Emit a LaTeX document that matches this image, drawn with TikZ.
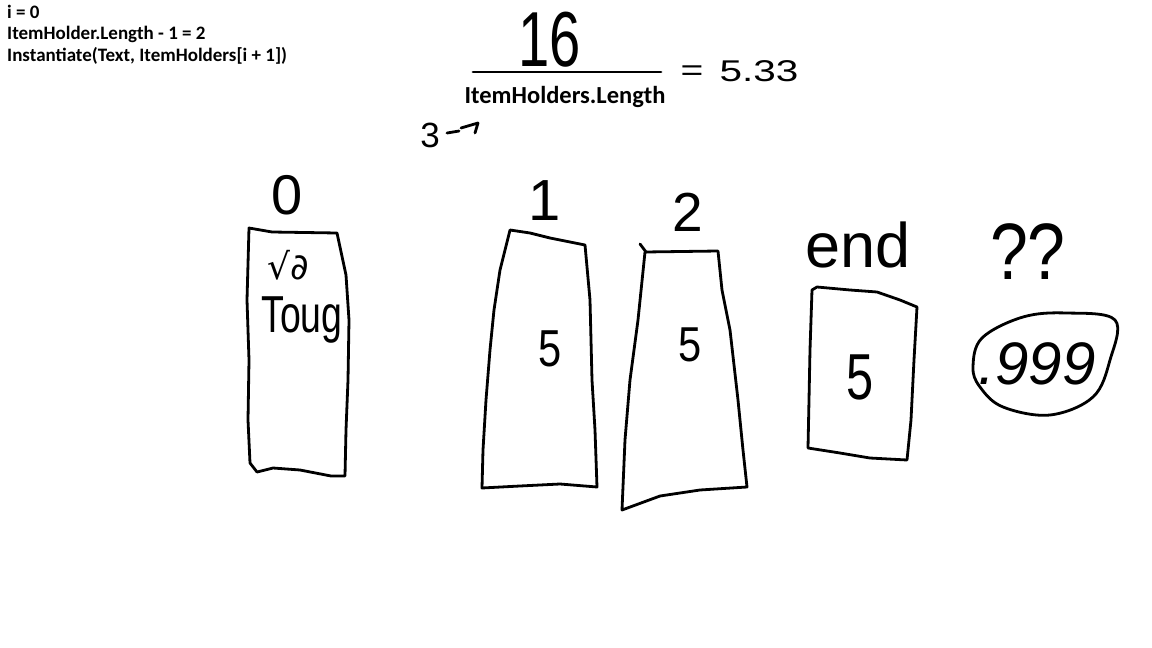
\documentclass[tikz,border=0pt]{standalone}
\usepackage{fontspec}
\setmainfont{Liberation Sans}
\newfontfamily\codefont{Carlito}
\newfontfamily\symfont{DejaVu Sans}
\begin{document}
\begin{tikzpicture}[x=1pt,y=-1pt,
  ink/.style={line width=2.8pt,line cap=round,line join=round},
  hand/.style={inner sep=0pt,anchor=center},
  code/.style={inner sep=0pt,anchor=west,font=\codefont\bfseries\fontsize{19}{22}\selectfont}]
\fill[white] (0,0) rectangle (1152,648);
\useasboundingbox (0,0) rectangle (1152,648);
% code text
\node[code] (c1) at (7,12) {i = 0};
\node[code] (c2) at (7,34) {ItemHolder.Length - 1 = 2};
\node[code] (c3) at (7,56) {Instantiate(Text, ItemHolders[i + 1])};
% fraction
\node[hand,xscale=0.72,font=\fontsize{78}{80}\selectfont] (num) at (550,40) {16};
\coordinate (fl) at (473,72);
\coordinate (fr) at (661,72);
\draw[ink] (fl) -- (fr);
\node[inner sep=0pt,font=\codefont\bfseries\fontsize{24.5}{26}\selectfont] (den) at (565,97) {ItemHolders.Length};
\node[hand,xscale=1.3,font=\fontsize{30}{32}\selectfont] (eq) at (692,73) {=};
\node[hand,xscale=1.35,font=\fontsize{30}{32}\selectfont] (res) at (759,71) {5.33};
\node[hand,font=\fontsize{35}{38}\selectfont] (three) at (430,135) {3};
\coordinate (a1) at (447,133);
\coordinate (a2) at (459,131);
\coordinate (a3) at (461,128);
\coordinate (a4) at (478,123);
\coordinate (a5) at (475,133);
\draw[ink] (a1) -- (a2);
\draw[ink] (a3) -- (a4) -- (a5);
% labels
\node[hand,font=\fontsize{56}{60}\selectfont] (l0) at (287,195) {0};
\node[hand,font=\fontsize{58}{60}\selectfont] (l1) at (545,201) {1};
\node[hand,font=\fontsize{55}{60}\selectfont] (l2) at (688,212) {2};
\node[hand,font=\fontsize{63}{66}\selectfont] (lend) at (858,245) {end};
\node[hand,xscale=0.85,font=\fontsize{80}{84}\selectfont] (lq) at (1028,252) {??};
% box 0
\draw[ink] (249,228) -- (272,232) -- (337,233) -- (346,275) -- (349,320) -- (348,380) -- (346,430) -- (345,476)
  -- (331,476) -- (300,470) -- (273,468) -- (257,472) -- (250,463) -- (248,420) -- (249,360) -- (247,300) -- cycle;
\node[hand,font=\symfont\fontsize{36}{38}\selectfont] (t1) at (288,265) {√∂};
\node[hand,xscale=0.72,font=\fontsize{52}{56}\selectfont] (t2) at (302,320) {Toug};
% box 1
\draw[ink] (510,230) -- (530,233) -- (550,238) -- (585,245) -- (590,300) -- (592,380) -- (595,430) -- (597,487)
  -- (560,484) -- (520,486) -- (482,488) -- (483,450) -- (486,400) -- (490,350) -- (494,310) -- (500,270) -- cycle;
\node[hand,xscale=0.8,font=\fontsize{52}{56}\selectfont] (v1) at (550,349) {5};
% box 2
\draw[ink] (640,244) -- (646,252);
\draw[ink] (645,252) -- (718,251) -- (722,290) -- (730,330) -- (738,400) -- (743,450) -- (747,487)
  -- (700,490) -- (660,496) -- (622,510) -- (625,440) -- (630,380) -- (638,320) -- cycle;
\node[hand,xscale=0.85,font=\fontsize{49}{52}\selectfont] (v2) at (690,345) {5};
% end box
\draw[ink] (812,290) -- (817,287) -- (850,290) -- (877,292) -- (900,300) -- (917,307) -- (914,360) -- (911,420) -- (907,460)
  -- (870,458) -- (840,453) -- (808,448) -- (809,400) -- (810,350) -- cycle;
\node[hand,xscale=0.75,font=\fontsize{65}{68}\selectfont] (v3) at (860,377) {5};
% blob
\draw[ink] plot[smooth cycle,tension=0.6] coordinates {(973,367) (982,338) (1023,317) (1067,313) (1115,320) (1110,360) (1093,397) (1050,415) (1003,407) (980,387)};
\node[hand,font=\itshape\fontsize{60}{62}\selectfont] (v4) at (1037,364) {.999};
\end{tikzpicture}
\end{document}
